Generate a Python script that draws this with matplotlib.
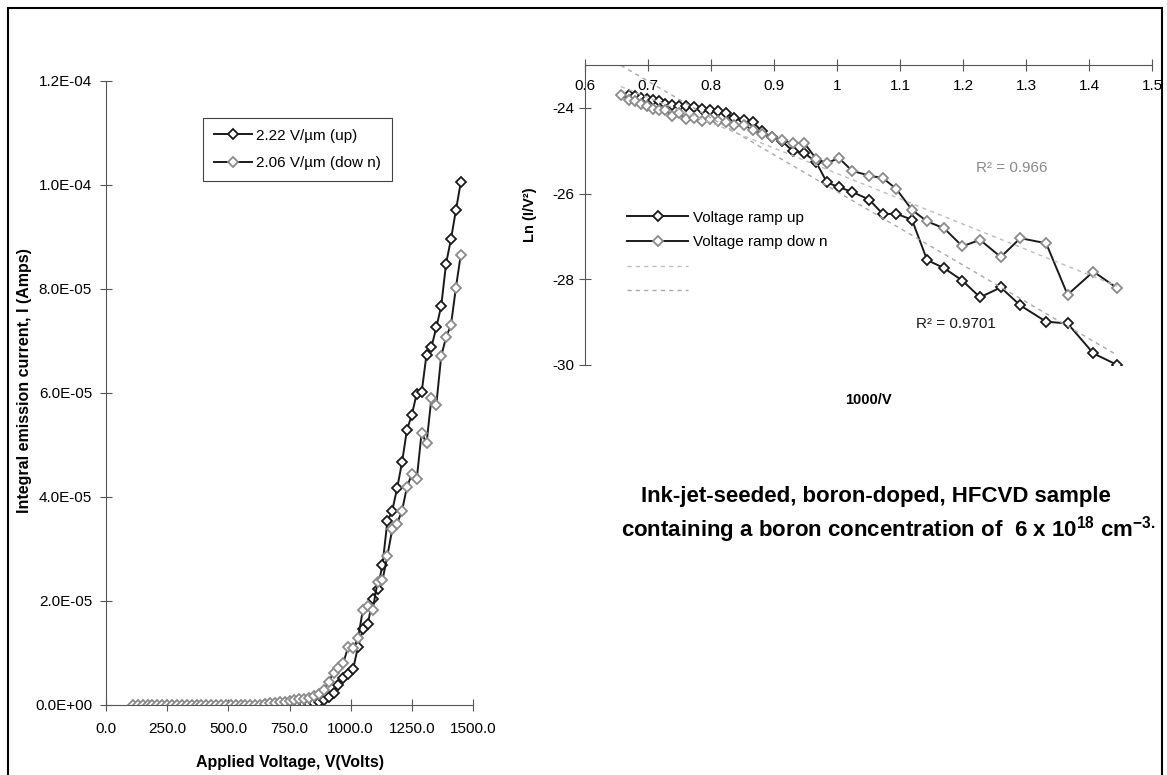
import numpy as np
import matplotlib
matplotlib.use('Agg')
import matplotlib.pyplot as plt
from matplotlib.patches import Rectangle

plt.rcParams['font.family'] = ['Liberation Sans', 'DejaVu Sans']
plt.rcParams['mathtext.fontset'] = 'custom'
plt.rcParams['mathtext.rm'] = 'Liberation Sans'
plt.rcParams['mathtext.bf'] = 'Liberation Sans:bold'
plt.rcParams['axes.unicode_minus'] = False

# ---- left panel: emission current vs applied voltage ----
volts_up = [650, 670, 690, 710, 730, 750, 770, 790, 810, 830, 850, 870, 890, 910,
            930, 950, 970, 990, 1010, 1030, 1050, 1070, 1090, 1110, 1130, 1150,
            1170, 1190, 1210, 1230, 1250, 1270, 1290, 1310, 1330, 1350, 1370,
            1390, 1410, 1430, 1450]
current_up = [0.0, 0.0, 0.0, 0.0, 0.0, 5e-8, 1e-7, 1e-7, 1.5e-7, 2e-7, 3e-7, 5e-7,
              9e-7, 1.6e-6, 2.4e-6, 3.8e-6, 5.1e-6, 5.9e-6, 6.9e-6, 1.12e-5,
              1.46e-5, 1.56e-5, 2.03e-5, 2.24e-5, 2.69e-5, 3.53e-5, 3.74e-5,
              4.17e-5, 4.67e-5, 5.29e-5, 5.58e-5, 5.99e-5, 6.01e-5, 6.74e-5,
              6.88e-5, 7.26e-5, 7.67e-5, 8.49e-5, 8.96e-5, 9.51e-5, 1.005e-4]

volts_down = [110, 130, 150, 170, 190, 210, 230, 250, 270, 290, 310, 330, 350, 370,
              390, 410, 430, 450, 470, 490, 510, 530, 550, 570, 590, 610, 630,
              650, 670, 690, 710, 730, 750, 770, 790, 810, 830, 850, 870, 890,
              910, 930, 950, 970, 990, 1010, 1030, 1050, 1070, 1090, 1110, 1130,
              1150, 1170, 1190, 1210, 1230, 1250, 1270, 1290, 1310, 1330, 1350,
              1370, 1390, 1410, 1430, 1450]
current_down = [0.0, 0.0, 0.0, 0.0, 0.0, 0.0, 0.0, 0.0, 0.0, 0.0, 0.0, 0.0, 0.0,
                0.0, 0.0, 0.0, 0.0, 0.0, 0.0, 0.0, 0.0, 0.0, 0.0, 0.0, 0.0, 0.0,
                0.0, 2e-7, 3e-7, 4e-7, 5e-7, 6e-7, 7e-7, 9e-7, 1.1e-6, 1.2e-6,
                1.4e-6, 1.7e-6, 2.1e-6, 2.8e-6, 4.5e-6, 6.2e-6, 7.1e-6, 8.1e-6,
                1.12e-5, 1.09e-5, 1.28e-5, 1.83e-5, 1.90e-5, 1.83e-5, 2.37e-5,
                2.40e-5, 2.87e-5, 3.38e-5, 3.49e-5, 3.74e-5, 4.19e-5, 4.44e-5,
                4.34e-5, 5.24e-5, 5.03e-5, 5.90e-5, 5.77e-5, 6.71e-5, 7.07e-5,
                7.31e-5, 8.02e-5, 8.66e-5]

# ---- right panel: Fowler-Nordheim plot ----
inv_v_up = [0.670, 0.679, 0.689, 0.698, 0.708, 0.717, 0.727, 0.738, 0.749, 0.761,
            0.773, 0.786, 0.798, 0.811, 0.824, 0.836, 0.852, 0.867, 0.881, 0.897,
            0.913, 0.930, 0.948, 0.967, 0.984, 1.003, 1.024, 1.051, 1.073, 1.094,
            1.119, 1.143, 1.170, 1.199, 1.227, 1.260, 1.291, 1.332, 1.366, 1.407,
            1.445]
ln_up = [-23.69, -23.73, -23.77, -23.79, -23.82, -23.85, -23.90, -23.94, -23.95,
         -23.95, -23.98, -24.02, -24.04, -24.08, -24.13, -24.23, -24.29, -24.34,
         -24.55, -24.68, -24.78, -25.01, -25.05, -25.27, -25.74, -25.85, -25.96,
         -26.14, -26.48, -26.47, -26.61, -27.55, -27.74, -28.03, -28.42, -28.19,
         -28.61, -28.99, -29.03, -29.73, -30.00]
inv_v_down = [0.657, 0.670, 0.679, 0.689, 0.698, 0.708, 0.717, 0.727, 0.738, 0.749,
              0.761, 0.773, 0.786, 0.798, 0.811, 0.824, 0.836, 0.852, 0.867, 0.881,
              0.897, 0.913, 0.930, 0.948, 0.967, 0.984, 1.003, 1.024, 1.051, 1.073,
              1.094, 1.119, 1.143, 1.170, 1.199, 1.227, 1.260, 1.291, 1.332, 1.366,
              1.407, 1.445]
ln_down = [-23.69, -23.81, -23.84, -23.92, -23.96, -24.02, -24.04, -24.05, -24.18,
           -24.13, -24.27, -24.23, -24.31, -24.27, -24.31, -24.34, -24.41, -24.41,
           -24.51, -24.62, -24.68, -24.76, -24.82, -24.82, -25.19, -25.29, -25.17,
           -25.47, -25.58, -25.64, -25.89, -26.38, -26.65, -26.81, -27.23, -27.08,
           -27.48, -27.04, -27.16, -28.36, -27.82, -28.21]

W, H = 1167, 775
fig = plt.figure(figsize=(W / 100, H / 100), dpi=100)

black = '#1a1a1a'
grey = '#8a8a8a'
mk = dict(marker='D', markersize=4.7, markeredgewidth=1.3, markerfacecolor='white')

# left axes (pixel layout converted to figure fractions)
x0, x1 = 106, 473
ax1 = fig.add_axes([x0 / W, 1 - 705 / H, (x1 - x0) / W, (705 - 81) / H])
l_up, = ax1.plot(volts_up, current_up, color=black, lw=1.4, markeredgecolor=black,
                 label='2.22 V/µm (up)', **mk)
l_dn, = ax1.plot(volts_down, current_down, color=black, lw=1.4, markeredgecolor=grey,
                 label='2.06 V/µm (dow n)', **mk)
ax1.set_xlim(0, 1500)
ax1.set_ylim(0, 1.2e-4)
ax1.set_xticks([0, 250, 500, 750, 1000, 1250, 1500])
ax1.set_xticklabels(['0.0', '250.0', '500.0', '750.0', '1000.0', '1250.0', '1500.0'])
yt = [0, 2e-5, 4e-5, 6e-5, 8e-5, 1e-4, 1.2e-4]
ax1.set_yticks(yt)
ax1.set_yticklabels([f'{v:.1E}' for v in yt])
for s in ['top', 'right']:
    ax1.spines[s].set_visible(False)
for s in ['left', 'bottom']:
    ax1.spines[s].set_color('#555555')
ax1.tick_params(direction='inout', length=8, color='#555555', labelsize=11)
ax1.tick_params(axis='x', pad=8)
ax1.tick_params(axis='y', pad=6)
ax1.set_xlabel('Applied Voltage, V(Volts)', fontsize=11.5, fontweight='bold')
ax1.xaxis.set_label_coords(0.5, -0.08)
ax1.set_ylabel('Integral emission current, I (Amps)', fontsize=11.5, fontweight='bold')
ax1.yaxis.set_label_coords((32 - x0) / (x1 - x0), 0.52)
leg1 = ax1.legend(handles=[l_up, l_dn], loc='upper left',
                  bbox_to_anchor=((203 - x0) / (x1 - x0), (705 - 118) / 624),
                  borderaxespad=0, fancybox=False, edgecolor='#444444', framealpha=1,
                  fontsize=11, handlelength=2.5, labelspacing=0.9, borderpad=0.7,
                  handletextpad=0.3)
leg1.get_frame().set_linewidth(0.8)

# right axes
ax2 = fig.add_axes([585 / W, 1 - 365 / H, (1152 - 585) / W, (365 - 65) / H])
r_up, = ax2.plot(inv_v_up, ln_up, color=black, lw=1.4, markeredgecolor=black, **mk)
r_dn, = ax2.plot(inv_v_down, ln_down, color=black, lw=1.4, markeredgecolor=grey, **mk)
# linear trendlines (Excel style)
cu = np.polyfit(inv_v_up, ln_up, 1)
cd = np.polyfit(inv_v_down, ln_down, 1)
xu = np.array([min(inv_v_down), max(inv_v_up)])
t_up, = ax2.plot(xu, np.polyval(cu, xu), ls=(0, (3, 3)), color='#a8a8a8', lw=1)
t_dn, = ax2.plot(xu, np.polyval(cd, xu), ls=(0, (3, 3)), color='#bdbdbd', lw=1)
ax2.set_xlim(0.6, 1.5)
ax2.set_ylim(-30, -23)
ax2.spines['bottom'].set_position(('data', -23))
for s in ['top', 'right']:
    ax2.spines[s].set_visible(False)
for s in ['left', 'bottom']:
    ax2.spines[s].set_color('#555555')
ax2.set_xticks([0.6, 0.7, 0.8, 0.9, 1.0, 1.1, 1.2, 1.3, 1.4, 1.5])
ax2.set_xticklabels(['0.6', '0.7', '0.8', '0.9', '1', '1.1', '1.2', '1.3', '1.4', '1.5'])
ax2.set_yticks([-24, -26, -28, -30])
ax2.tick_params(direction='inout', length=8, color='#555555', labelsize=11)
ax2.tick_params(axis='x', pad=6)
ax2.set_xlabel('1000/V', fontsize=10.5, fontweight='bold')
ax2.xaxis.set_label_coords(0.5, -0.093)
ax2.set_ylabel('Ln (I/V²)', fontsize=10.5, fontweight='bold')
ax2.yaxis.set_label_coords(-0.085, 0.5)
ax2.legend([r_up, r_dn, t_dn, t_up], ['Voltage ramp up', 'Voltage ramp dow n', '', ''],
           loc='upper left', bbox_to_anchor=(0.05, 0.56), frameon=False,
           fontsize=11, handlelength=4, labelspacing=0.7, handletextpad=0.3)
ax2.text(1.278, -25.40, 'R² = 0.966', color='#8a8a8a', fontsize=11,
         ha='center', va='center')
ax2.text(1.189, -29.05, 'R² = 0.9701', color=black, fontsize=11,
         ha='center', va='center')

# caption text
fig.text(876 / W, 1 - 497 / H, 'Ink-jet-seeded, boron-doped, HFCVD sample',
         ha='center', va='center', fontsize=16, fontweight='bold')
fig.text(888 / W, 1 - 530 / H,
         r'containing a boron concentration of  6 x 10$^{\mathbf{18}}$ cm$^{\mathbf{-3.}}$',
         ha='center', va='center', fontsize=16, fontweight='bold')

# outer frame
fig.patches.append(Rectangle((8 / W, -0.05), (1162 - 8) / W, 1.05 - 8 / H,
                             transform=fig.transFigure, fill=False, lw=1.5,
                             ec='black'))

fig.savefig('out.png', dpi=100)
